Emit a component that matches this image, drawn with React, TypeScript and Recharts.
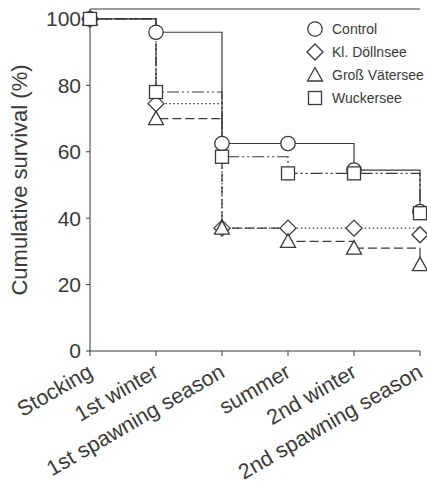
import React from 'react';
import { LineChart, Line, XAxis, YAxis, ReferenceLine } from 'recharts';

const stages = ['Stocking', '1st winter', '1st spawning season', 'summer', '2nd winter', '2nd spawning season'];
const control = [100, 96, 62.5, 62.5, 54.5, 42];
const dollnsee = [100, 74.5, 37, 37, 37, 35];
const vatersee = [100, 70, 37, 33, 31, 26];
const wuckersee = [100, 78, 58.5, 53.5, 53.5, 41.5];
const yTicks = [0, 20, 40, 60, 80, 100];

const data = stages.map((stage, i) => ({
  stage,
  control: control[i],
  dollnsee: dollnsee[i],
  vatersee: vatersee[i],
  wuckersee: wuckersee[i],
}));

const INK = '#3a3a3a';
const FONT = '"Liberation Sans", Arial, sans-serif';

type Shape = 'circle' | 'diamond' | 'triangle' | 'square';

const Marker = ({ shape, cx, cy }: { shape: Shape; cx: number; cy: number }) => {
  const p = { fill: '#fff', stroke: INK, strokeWidth: 1.3 };
  if (shape === 'circle') return <circle cx={cx} cy={cy} r={7.2} {...p} />;
  if (shape === 'diamond')
    return <polygon points={`${cx},${cy - 8} ${cx + 8},${cy} ${cx},${cy + 8} ${cx - 8},${cy}`} {...p} />;
  if (shape === 'triangle')
    return <polygon points={`${cx},${cy - 7.5} ${cx + 7.5},${cy + 6} ${cx - 7.5},${cy + 6}`} {...p} />;
  return <rect x={cx - 6.5} y={cy - 6.5} width={13} height={13} {...p} />;
};

const dotFor = (shape: Shape) => (props: any) => (
  <Marker key={`${shape}-${props.index}`} shape={shape} cx={props.cx} cy={props.cy} />
);

const series = [
  { key: 'control', name: 'Control', shape: 'circle' as Shape, dash: undefined },
  { key: 'dollnsee', name: 'Kl. Döllnsee', shape: 'diamond' as Shape, dash: '1.5 2.5' },
  { key: 'vatersee', name: 'Groß Vätersee', shape: 'triangle' as Shape, dash: '9 4' },
  { key: 'wuckersee', name: 'Wuckersee', shape: 'square' as Shape, dash: '12 3 2 3 2 3' },
];

// baseline end of each label sits just below-right of its tick
const XTick = ({ x, y, payload }: any) => (
  <g transform={`translate(${x + 4},${y + 18}) rotate(-30)`}>
    <text x={0} y={0} textAnchor="end" fontSize={21.5} fill={INK} fontFamily={FONT}>
      {payload.value}
    </text>
  </g>
);

// legend drawn as an overlay so it doesn't shrink the plot
const LegendBox = () => (
  <div style={{ position: 'absolute', left: 305, top: 17, fontFamily: FONT, fontSize: 14, color: INK }}>
    {series.map((s) => (
      <div key={s.key} style={{ display: 'flex', alignItems: 'center', height: 23, whiteSpace: 'nowrap' }}>
        <svg width={20} height={20} style={{ marginRight: 7 }}>
          <Marker shape={s.shape} cx={10} cy={10} />
        </svg>
        <span>{s.name}</span>
      </div>
    ))}
  </div>
);

export default function App() {
  return (
    <div style={{ position: 'absolute', left: 0, top: 0, width: 427, height: 484, overflow: 'hidden', background: '#fff' }}>
      <LineChart width={427} height={484} data={data} margin={{ top: 9, right: 7, bottom: 0, left: 30 }}>
        <XAxis
          dataKey="stage"
          height={133}
          interval={0}
          tick={<XTick />}
          tickSize={5}
          stroke={INK}
          padding={{ left: 0, right: 0 }}
        />
        <YAxis
          domain={[0, 103]}
          ticks={yTicks}
          width={60}
          tickSize={4}
          tickMargin={5}
          stroke={INK}
          tick={{ fontSize: 21, fill: INK, fontFamily: FONT }}
          label={{
            value: 'Cumulative survival (%)',
            angle: -90,
            position: 'insideLeft',
            dx: -16,
            dy: 0,
            style: { fontSize: 22, fill: INK, fontFamily: FONT, textAnchor: 'middle' },
          }}
        />
        <ReferenceLine y={103} stroke={INK} strokeWidth={1} />
        {series.map((s) => (
          <Line
            key={s.key}
            type="stepAfter"
            dataKey={s.key}
            name={s.name}
            stroke={INK}
            strokeWidth={1.2}
            strokeDasharray={s.dash}
            dot={dotFor(s.shape)}
            activeDot={false}
            isAnimationActive={false}
          />
        ))}
      </LineChart>
      <LegendBox />
    </div>
  );
}
